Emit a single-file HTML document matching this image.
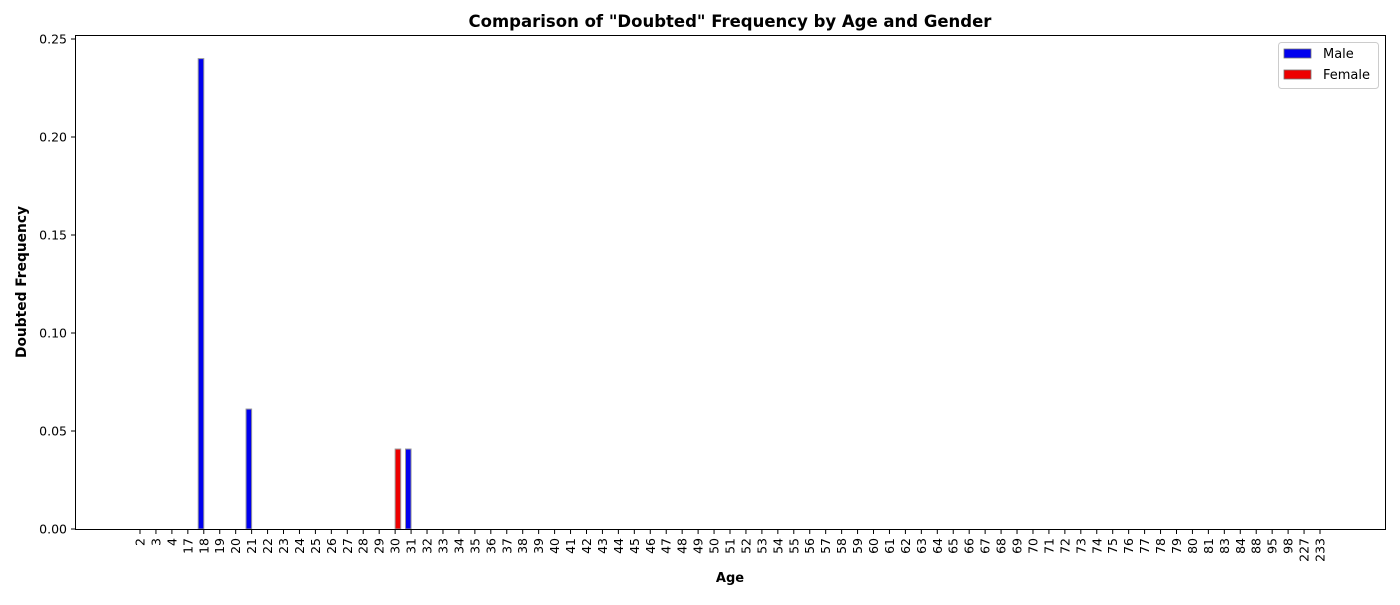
<!DOCTYPE html>
<html><head><meta charset="utf-8"><style>
body{margin:0;background:#fff;font-family:"Liberation Sans","DejaVu Sans",sans-serif;}
svg text{font-family:"DejaVu Sans","Liberation Sans",sans-serif;}
</style></head><body>
<svg id="chart" width="1400" height="600" xmlns="http://www.w3.org/2000/svg">
<text x="730" y="27" text-anchor="middle" font-size="16.5" font-weight="bold">Comparison of "Doubted" Frequency by Age and Gender</text>
<text x="730" y="582" text-anchor="middle" font-size="13" font-weight="bold">Age</text>
<text transform="translate(26,282) rotate(-90)" text-anchor="middle" font-size="13.8" font-weight="bold">Doubted Frequency</text>
<g id="marks"></g>
<rect x="75.5" y="35.5" width="1310" height="494" fill="none" stroke="#000" stroke-width="1"/>
<g>
<rect x="1278.5" y="42.5" width="100" height="46" rx="3" fill="#fff" stroke="#ccc"/>
<rect x="1284" y="49" width="27" height="9" fill="#0000ee" stroke="#777" stroke-width="0.8"/>
<text x="1323" y="58" font-size="13">Male</text>
<rect x="1284" y="70" width="27" height="9" fill="#ee0000" stroke="#777" stroke-width="0.8"/>
<text x="1323" y="79" font-size="13">Female</text>
</g>
</svg>
<script>
const ages = [2,3,4,17,18,19,20,21,22,23,24,25,26,27,28,29,30,31,32,33,34,35,36,37,38,39,40,41,42,43,44,45,46,47,48,49,50,51,52,53,54,55,56,57,58,59,60,61,62,63,64,65,66,67,68,69,70,71,72,73,74,75,76,77,78,79,80,81,83,84,88,95,98,227,233];
const maleAges = [18,21,31];
const maleValues = [0.24,0.0612,0.0408];
const femaleAges = [30];
const femaleValues = [0.0408];
const yTicks = [0,0.05,0.1,0.15,0.2,0.25];
const yTickLabels = ["0.00","0.05","0.10","0.15","0.20","0.25"];

const NS="http://www.w3.org/2000/svg";
const g=document.getElementById('marks');
const X0=140, X1=1320, Y0=529, Y1=39;
const step=(X1-X0)/(ages.length-1);
function xPos(i){return X0+i*step;}
function yPos(v){return Y0-(v/0.25)*(Y0-Y1);}
function mk(tag,attrs){const e=document.createElementNS(NS,tag);for(const k in attrs)e.setAttribute(k,attrs[k]);g.appendChild(e);return e;}
ages.forEach((a,i)=>{
  const x=xPos(i);
  const t=mk('line',{x1:x,x2:x,y1:529.5,y2:534,stroke:'#000'});
  
  
  const l=mk('text',{transform:`translate(${x+4.5},538) rotate(-90)`,'text-anchor':'end','font-size':'12.5'});
  l.textContent=a;
  
  
});
yTicks.forEach((v,i)=>{
  const y=yPos(v);
  const t=mk('line',{x1:71,x2:75.5,y1:y,y2:y,stroke:'#000'});
  
  
  const l=mk('text',{x:67,y:y+4.5,'text-anchor':'end','font-size':'12.5'});
  l.textContent=yTickLabels[i];
  
  
});
const bw=step*0.35;
function bars(list,vals,color,off,name){
  list.forEach((a,j)=>{
    const i=ages.indexOf(a); if(i<0)return;
    const cx=xPos(i)+off;
    const y=yPos(vals[j]);
    const r=mk('rect',{x:cx-bw/2,y:y,width:bw,height:Y0-y,fill:color,stroke:'#999','stroke-width':1});
    
    
  });
}
bars(maleAges,maleValues,'#0000ee',-bw/2,'male');
bars(femaleAges,femaleValues,'#ee0000',bw/2,'female');
</script>
</body></html>
